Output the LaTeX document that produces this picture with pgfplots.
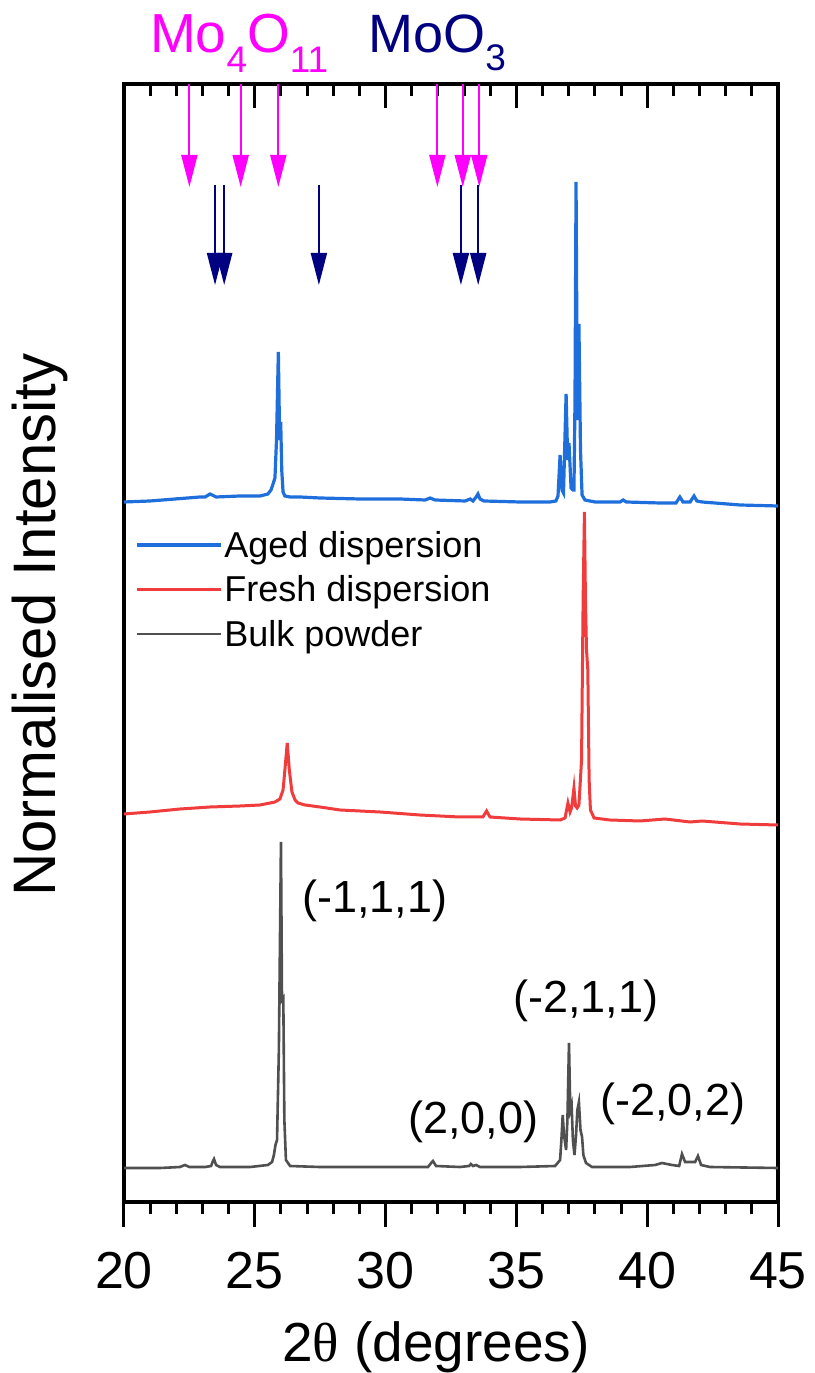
\documentclass[border=0pt]{standalone}
\usepackage{pgfplots}
\pgfplotsset{compat=1.18}
\usepackage{pgfplotstable}
\usepackage{fontspec}
\setmainfont{Liberation Sans}
\newfontfamily\serifgreek{Liberation Serif}
\usetikzlibrary{arrows.meta}
\definecolor{cblue}{HTML}{1E6FDC}
\definecolor{cred}{HTML}{F03C3C}
\definecolor{cgray}{HTML}{505050}
\definecolor{cmag}{HTML}{FF00FF}
\definecolor{cnavy}{HTML}{000080}
\newcommand{\fs}[1]{\fontsize{#1}{#1}\selectfont}

\pgfplotstableread{
x h
20.00 700
20.99 701
21.95 703
22.91 705
23.10 705
23.29 708
23.52 705
24.43 706
25.20 706
25.50 708
25.62 712
25.71 719
25.77 724
25.83 762
25.90 850
25.95 762
25.99 780
26.03 732
26.08 710
26.15 706
26.35 705
26.73 705
27.49 704
29.02 703
30.55 703
31.51 702
31.70 704
31.89 702
33.04 701
33.23 703
33.34 701
33.46 705
33.53 708
33.61 703
33.76 701
35.14 700
36.28 700
36.51 701
36.59 706
36.67 747
36.74 712
36.80 709
36.90 808
36.96 742
37.01 759
37.09 714
37.16 712
37.20 712
37.24 802
37.28 1020
37.33 782
37.39 878
37.45 752
37.51 707
37.62 702
38.01 700
38.96 700
39.08 702
39.20 700
40.49 699
41.10 699
41.25 705
41.37 700
41.64 700
41.79 706
41.90 701
42.10 700
43.55 697
45.00 696
}\aged

\pgfplotstableread{
x h
20.00 388
20.99 390
22.14 393
23.29 395
24.43 396
25.20 397
25.77 400
25.96 403
26.08 412
26.15 432
26.24 459
26.32 432
26.42 410
26.54 402
26.65 399
26.92 397
27.49 395
28.26 392
29.79 390
31.31 387
32.84 385
33.72 385
33.86 391
33.99 385
35.14 383
36.67 382
36.86 384
36.97 399
37.05 390
37.11 394
37.20 414
37.26 396
37.32 394
37.39 397
37.49 442
37.55 602
37.60 690
37.64 602
37.68 552
37.73 532
37.78 422
37.83 392
37.97 384
38.58 382
39.72 381
40.68 383
41.64 380
42.10 381
43.55 378
45.00 377
}\fresh

\pgfplotstableread{
x h
20.00 34
21.38 34
22.14 35
22.33 37
22.50 35
23.10 35
23.33 36
23.40 41
23.44 43
23.52 37
23.67 35
24.82 35
25.50 37
25.66 40
25.73 47
25.79 57
25.85 62
25.92 152
26.00 360
26.04 202
26.09 204
26.13 82
26.19 42
26.35 36
27.49 35
29.02 35
30.55 35
31.62 35
31.74 39
31.81 41
31.93 36
32.84 35
33.19 36
33.26 38
33.34 36
33.46 37
33.61 35
35.14 35
36.48 36
36.67 42
36.72 62
36.77 87
36.82 67
36.90 52
36.95 82
37.01 159
37.06 92
37.11 97
37.16 62
37.22 47
37.28 67
37.33 92
37.39 100
37.45 72
37.51 65
37.56 47
37.66 39
37.89 35
39.34 35
40.30 37
40.57 39
40.95 37
41.22 36
41.33 48
41.45 40
41.64 40
41.83 40
41.94 46
42.06 37
42.40 35
45.00 34
}\bulk

\begin{document}
\begin{tikzpicture}
\path[use as bounding box] (-124pt,-171pt) rectangle (690pt,1202pt);
% top ticks (inside)
\begin{axis}[
  at={(0,0)}, anchor=south west,
  scale only axis, width=654pt, height=1118pt,
  xmin=20, xmax=45, ymin=0, ymax=1118,
  xtick={20,25,...,45}, minor x tick num=4,
  xtick pos=right, tick align=inside,
  xticklabels={}, ytick=\empty,
  major tick length=24pt, minor tick length=12pt,
  every tick/.style={line width=3pt, black},
  axis line style={line width=3.5pt},
]
\end{axis}
\begin{axis}[
  at={(0,0)}, anchor=south west,
  scale only axis, width=654pt, height=1118pt,
  xmin=20, xmax=45, ymin=0, ymax=1118,
  xtick={20,25,...,45}, minor x tick num=4,
  xtick pos=left, tick align=outside,
  ytick=\empty,
  major tick length=25pt, minor tick length=12pt,
  every tick/.style={line width=3pt, black},
  axis line style={line width=3.5pt},
  /pgf/number format/assume math mode=true,
  xticklabel style={font=\fs{52}, anchor=base, yshift=-61pt},
  xlabel={2{\serifgreek θ} (degrees)},
  xlabel style={font=\fs{55}, at={(axis description cs:0.477,-0.1431)}, anchor=base},
  ylabel={Normalised Intensity},
  ylabel style={font=\fs{60}, at={(axis description cs:-0.1055,0.516)}, anchor=base},
  clip=false,
  legend cell align=left,
  legend image code/.code={\draw[#1] (0pt,0pt) -- (84pt,0pt);},
  legend style={at={(axis cs:20.42,673)}, anchor=north west, draw=none, fill=none,
    inner sep=0pt, row sep=13pt, font=\fs{36},
    /tikz/every even column/.append style={column sep=14pt}},
]
\addplot[cblue, line width=3.2pt] table[x=x,y=h] {\aged};
\addlegendentry{Aged dispersion}
\addplot[cred, line width=3pt] table[x=x,y=h] {\fresh};
\addlegendentry{Fresh dispersion}
\addplot[cgray, line width=2.6pt] table[x=x,y=h] {\bulk};
\addlegendentry{Bulk powder}

\addplot[forget plot, cmag, line width=2pt, quiver={u=0,v=-103},
  -{Triangle[length=32pt,width=16pt]}] coordinates {
  (22.50,1118) (24.46,1118) (25.90,1118) (31.98,1118) (32.95,1118) (33.58,1118)};
\addplot[forget plot, cnavy, line width=2pt, quiver={u=0,v=-100},
  -{Triangle[length=32pt,width=16pt]}] coordinates {
  (23.48,1017) (23.83,1017) (27.45,1017) (32.88,1017) (33.54,1017)};

\node[anchor=base west, inner sep=0pt, text=cmag, font=\fs{55}] at (axis cs:20.99,1149)
  {Mo\raisebox{-0.35em}{\fs{37}4}O\raisebox{-0.35em}{\fs{37}11}};
\node[anchor=base west, inner sep=0pt, text=cnavy, font=\fs{54}] at (axis cs:29.33,1149)
  {MoO\raisebox{-0.33em}{\fs{37}3}};

\node[anchor=base west, inner sep=0pt, font=\fs{45}] at (axis cs:26.80,289) {(-1,1,1)};
\node[anchor=base west, inner sep=0pt, font=\fs{45}] at (axis cs:34.87,189) {(-2,1,1)};
\node[anchor=base west, inner sep=0pt, font=\fs{45}] at (axis cs:30.86,69) {(2,0,0)};
\node[anchor=base west, inner sep=0pt, font=\fs{45}] at (axis cs:38.20,87) {(-2,0,2)};
\end{axis}
\end{tikzpicture}
\end{document}
